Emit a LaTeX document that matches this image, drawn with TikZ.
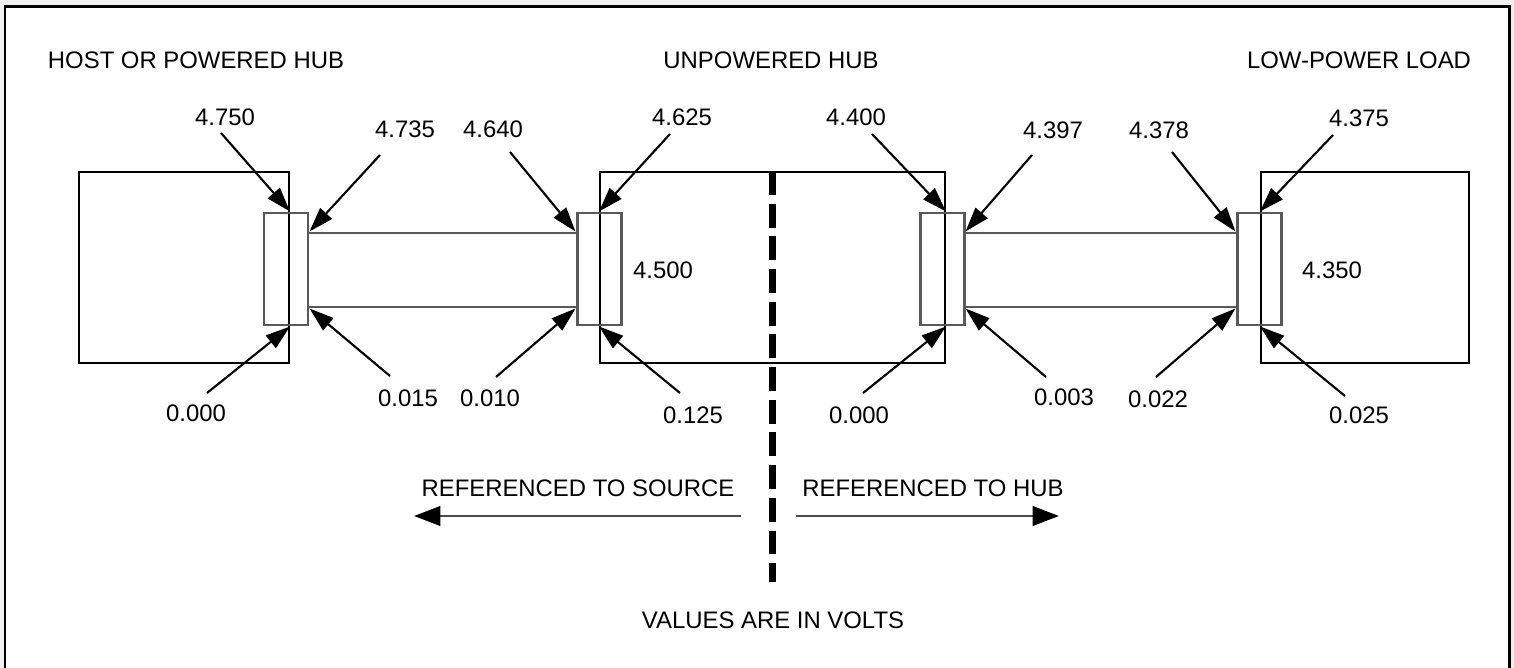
\documentclass[tikz,border=0pt]{standalone}
\usepackage{fontspec}
\setmainfont{Liberation Sans}
\usetikzlibrary{fit,arrows.meta}

\tikzset{
  unit/.style={draw,line width=1.1pt,inner sep=0pt},
  plug/.style={draw=black!65,line width=1.7pt,inner sep=0pt},
  val/.style={inner sep=1pt},
  lead/.style={line width=1.2pt,-{Triangle[length=14pt,width=9pt]}},
  refarrow/.style={draw=black!70,line width=1.7pt,-{Triangle[length=15pt,width=11pt,color=black]}},
  split/.style={line width=4.5pt,dash pattern=on 13.6pt off 5pt},
}

\begin{document}
\begin{tikzpicture}[x=0.02cm,y=-0.02cm,font=\fontsize{13.6}{16}\selectfont]
        \useasboundingbox (0,0) rectangle (1514,668);
        \fill[black!6] (0,0) rectangle (1514,668);
        \fill[white] (5,7) rectangle (1509,668);
        \draw[line width=1.7pt] (5,668) -- (5,7) -- (1509,7) -- (1509,668);

        % boxes
        \node (host) [unit, fit={(79,172) (289,363)}] {};
        \node (hub) [unit, fit={(600,172) (945,363)}] {};
        \node (load) [unit, fit={(1261,172) (1469,363)}] {};
        % plugs and cables
        \node (c1) [plug, fit={(264,213) (308,325)}] {};
        \node (cab1) [plug, fit={(308,233) (577,307)}] {};
        \node (c2) [plug, fit={(577,213) (621,325)}] {};
        \node (c3) [plug, fit={(920,213) (964,325)}] {};
        \node (cab2) [plug, fit={(964,233) (1237,307)}] {};
        \node (c4) [plug, fit={(1237,213) (1281,325)}] {};

        \node (thost) at (196,60) {HOST OR POWERED HUB};
        \node (thub) at (771,60) {UNPOWERED HUB};
        \node (tload) at (1359,60) {LOW-POWER LOAD};

        \node (v4750) [val] at (225,117) {4.750};
        \node (v4735) [val] at (405,129) {4.735};
        \node (v4640) [val] at (493,129) {4.640};
        \node (v4625) [val] at (682,117) {4.625};
        \node (v4400) [val] at (856,117) {4.400};
        \node (v4397) [val] at (1053,130) {4.397};
        \node (v4378) [val] at (1159,130) {4.378};
        \node (v4375) [val] at (1359,118) {4.375};
        \node (v4500) [val] at (663,270) {4.500};
        \node (v4350) [val] at (1332,270) {4.350};
        \node (v0000a) [val] at (196,413) {0.000};
        \node (v0015) [val] at (408,398) {0.015};
        \node (v0010) [val] at (490,398) {0.010};
        \node (v0125) [val] at (693,415) {0.125};
        \node (v0000b) [val] at (859,415) {0.000};
        \node (v0003) [val] at (1064,397) {0.003};
        \node (v0022) [val] at (1158,399) {0.022};
        \node (v0025) [val] at (1359,415) {0.025};

        \draw[lead] ([shift={(-4,16)}]v4750.center) -- (host.east |- c1.north);
        \draw[lead] ([shift={(-25,26)}]v4735.center) -- (c1.east |- cab1.north);
        \draw[lead] ([shift={(17,23)}]v4640.center) -- (c2.west |- cab1.north);
        \draw[lead] ([shift={(-12,17)}]v4625.center) -- (hub.west |- c2.north);
        \draw[lead] ([shift={(16,17)}]v4400.center) -- (hub.east |- c3.north);
        \draw[lead] ([shift={(-21,25)}]v4397.center) -- (c3.east |- cab2.north);
        \draw[lead] ([shift={(13,22)}]v4378.center) -- (c4.west |- cab2.north);
        \draw[lead] ([shift={(-26,17)}]v4375.center) -- (load.west |- c4.north);
        \draw[lead] ([shift={(11,-20)}]v0000a.center) -- (host.east |- c1.south);
        \draw[lead] ([shift={(-18,-22)}]v0015.center) -- (c1.east |- cab1.south);
        \draw[lead] ([shift={(6,-21)}]v0010.center) -- (c2.west |- cab1.south);
        \draw[lead] ([shift={(-13,-22)}]v0125.center) -- (hub.west |- c2.south);
        \draw[lead] ([shift={(4,-22)}]v0000b.center) -- (hub.east |- c3.south);
        \draw[lead] ([shift={(-18,-20)}]v0003.center) -- (c3.east |- cab2.south);
        \draw[lead] ([shift={(-2,-22)}]v0022.center) -- (c4.west |- cab2.south);
        \draw[lead] ([shift={(-14,-19)}]v0025.center) -- (load.west |- c4.south);

        % source / hub split
        \coordinate (cut) at (771,582);
        \draw[split] (hub.north) -- (hub.north |- cut);
        \node (rsrc) at (578,488) {REFERENCED TO SOURCE};
        \node (rhub) at (933,488) {REFERENCED TO HUB};
        \coordinate (srcend) at (414,516);
        \coordinate (hubend) at (1059,516);
        \draw[refarrow] (rsrc.east |- srcend) -- (srcend);
        \draw[refarrow] (rhub.west |- hubend) -- (hubend);
        \node (volts) at (773,620) {VALUES ARE IN VOLTS};
\end{tikzpicture}
\end{document}
